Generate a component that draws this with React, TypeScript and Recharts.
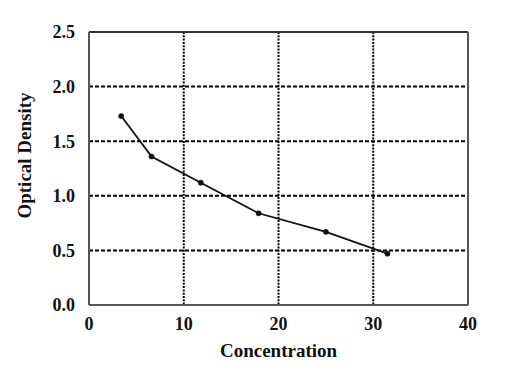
import React from 'react';
import {
  LineChart,
  Line,
  XAxis,
  YAxis,
  CartesianGrid,
  ReferenceLine,
  Label,
} from 'recharts';

const concentration = [3.4, 6.6, 11.8, 17.9, 25.0, 31.5];
const opticalDensity = [1.73, 1.36, 1.12, 0.84, 0.67, 0.47];
const xTicks = [0, 10, 20, 30, 40];
const yTicks = [0, 0.5, 1.0, 1.5, 2.0, 2.5];
const xTitle = 'Concentration';
const yTitle = 'Optical Density';

const data = concentration.map((c, i) => ({ x: c, y: opticalDensity[i] }));

const FONT = '"Liberation Serif", "Times New Roman", serif';

const YTitle = (props: any) => {
  const vb = props.viewBox || {};
  const cx = (vb.x ?? 0) + 23;
  const cy = (vb.y ?? 0) + (vb.height ?? 0) / 2 - 13;
  return (
    <text
      x={cx}
      y={cy}
      transform={`rotate(-90, ${cx}, ${cy})`}
      textAnchor="middle"
      fontFamily={FONT}
      fontWeight="bold"
      fontSize={19}
      fill="#111"
    >
      {yTitle}
    </text>
  );
};

export default function App() {
  return (
    <div style={{ width: 501, height: 361, background: '#fff' }}>
      <LineChart
        width={501}
        height={361}
        data={data}
        margin={{ top: 24, right: 41, left: 0, bottom: 0 }}
      >
        <CartesianGrid
          horizontal={true}
          vertical={false}
          stroke="#000"
          strokeWidth={2}
          strokeDasharray="4 2"
        />
        <CartesianGrid
          horizontal={false}
          vertical={true}
          stroke="#000"
          strokeWidth={2}
          strokeDasharray="2 1.3"
        />
        <XAxis
          dataKey="x"
          type="number"
          domain={[0, 40]}
          ticks={xTicks}
          height={64}
          tickLine={false}
          tickSize={0}
          tickMargin={12}
          stroke="#555"
          strokeWidth={2}
          tick={{ fill: '#111', fontFamily: FONT, fontWeight: 'bold', fontSize: 18 }}
        >
          <Label
            value={xTitle}
            position="insideBottom"
            offset={12}
            fill="#111"
            fontFamily={FONT}
            fontWeight="bold"
            fontSize={19}
          />
        </XAxis>
        <YAxis
          dataKey="y"
          type="number"
          domain={[0, 2.5]}
          ticks={yTicks}
          width={81}
          tickLine={false}
          tickSize={0}
          tickMargin={14}
          stroke="#555"
          strokeWidth={2}
          tickFormatter={(v: number) => v.toFixed(1)}
          tick={{ fill: '#111', fontFamily: FONT, fontWeight: 'bold', fontSize: 18 }}
        >
          <Label content={<YTitle />} position="left" />
        </YAxis>
        <ReferenceLine y={2.5} stroke="#333" strokeWidth={2} ifOverflow="extendDomain" />
        <ReferenceLine x={40} stroke="#555" strokeWidth={2} ifOverflow="extendDomain" />
        <Line
          type="linear"
          dataKey="y"
          stroke="#111"
          strokeWidth={1.8}
          dot={{ r: 2.6, fill: '#111', stroke: '#111', strokeWidth: 0.5 }}
          isAnimationActive={false}
        />
      </LineChart>
    </div>
  );
}
